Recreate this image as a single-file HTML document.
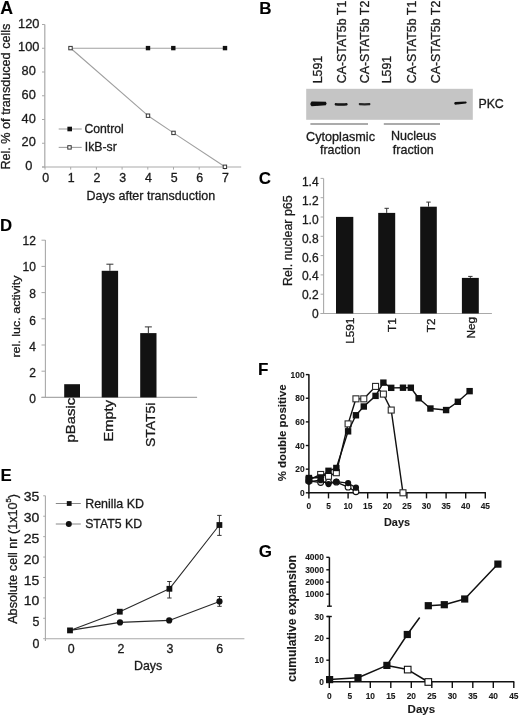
<!DOCTYPE html>
<html><head><meta charset="utf-8"><style>
html,body{margin:0;padding:0;background:#fff;}
body{width:520px;height:716px;overflow:hidden;}
svg{display:block;font-family:"Liberation Sans", sans-serif;filter:blur(0.35px);}
</style></head><body>
<svg width="520" height="716" viewBox="0 0 520 716">
<defs><filter id="bl" x="-20%" y="-100%" width="140%" height="300%"><feGaussianBlur stdDeviation="0.7"/></filter></defs>
<rect width="520" height="716" fill="#fff"/>
<text x="0.2" y="14.0" font-size="17.7" font-weight="bold" fill="#000" stroke="#000" stroke-width="0.1">A</text>
<line x1="44.8" y1="24.5" x2="44.8" y2="167.5" stroke="#a9a9a9" stroke-width="1.2"/>
<line x1="42.0" y1="167.0" x2="241.2" y2="167.0" stroke="#a9a9a9" stroke-width="1.2"/>
<line x1="42.0" y1="167.0" x2="44.8" y2="167.0" stroke="#a9a9a9" stroke-width="1"/>
<text x="28.7" y="170.1" font-size="12.8" text-anchor="middle" fill="#1a1a1a" stroke="#1a1a1a" stroke-width="0.3">0</text>
<line x1="42.0" y1="143.25" x2="44.8" y2="143.25" stroke="#a9a9a9" stroke-width="1"/>
<text x="28.7" y="146.35" font-size="12.8" text-anchor="middle" fill="#1a1a1a" stroke="#1a1a1a" stroke-width="0.3">20</text>
<line x1="42.0" y1="119.5" x2="44.8" y2="119.5" stroke="#a9a9a9" stroke-width="1"/>
<text x="28.7" y="122.6" font-size="12.8" text-anchor="middle" fill="#1a1a1a" stroke="#1a1a1a" stroke-width="0.3">40</text>
<line x1="42.0" y1="95.75" x2="44.8" y2="95.75" stroke="#a9a9a9" stroke-width="1"/>
<text x="28.7" y="98.85" font-size="12.8" text-anchor="middle" fill="#1a1a1a" stroke="#1a1a1a" stroke-width="0.3">60</text>
<line x1="42.0" y1="72.0" x2="44.8" y2="72.0" stroke="#a9a9a9" stroke-width="1"/>
<text x="28.7" y="75.1" font-size="12.8" text-anchor="middle" fill="#1a1a1a" stroke="#1a1a1a" stroke-width="0.3">80</text>
<line x1="42.0" y1="48.25" x2="44.8" y2="48.25" stroke="#a9a9a9" stroke-width="1"/>
<text x="28.7" y="51.35" font-size="12.8" text-anchor="middle" fill="#1a1a1a" stroke="#1a1a1a" stroke-width="0.3">100</text>
<line x1="42.0" y1="24.5" x2="44.8" y2="24.5" stroke="#a9a9a9" stroke-width="1"/>
<text x="28.7" y="27.6" font-size="12.8" text-anchor="middle" fill="#1a1a1a" stroke="#1a1a1a" stroke-width="0.3">120</text>
<line x1="45.0" y1="167" x2="45.0" y2="169.6" stroke="#a9a9a9" stroke-width="1"/>
<text x="45.6" y="182.0" font-size="12.4" text-anchor="middle" fill="#1a1a1a" stroke="#1a1a1a" stroke-width="0.3">0</text>
<line x1="70.7" y1="167" x2="70.7" y2="169.6" stroke="#a9a9a9" stroke-width="1"/>
<text x="71.3" y="182.0" font-size="12.4" text-anchor="middle" fill="#1a1a1a" stroke="#1a1a1a" stroke-width="0.3">1</text>
<line x1="96.4" y1="167" x2="96.4" y2="169.6" stroke="#a9a9a9" stroke-width="1"/>
<text x="97.0" y="182.0" font-size="12.4" text-anchor="middle" fill="#1a1a1a" stroke="#1a1a1a" stroke-width="0.3">2</text>
<line x1="122.1" y1="167" x2="122.1" y2="169.6" stroke="#a9a9a9" stroke-width="1"/>
<text x="122.69999999999999" y="182.0" font-size="12.4" text-anchor="middle" fill="#1a1a1a" stroke="#1a1a1a" stroke-width="0.3">3</text>
<line x1="147.8" y1="167" x2="147.8" y2="169.6" stroke="#a9a9a9" stroke-width="1"/>
<text x="148.4" y="182.0" font-size="12.4" text-anchor="middle" fill="#1a1a1a" stroke="#1a1a1a" stroke-width="0.3">4</text>
<line x1="173.5" y1="167" x2="173.5" y2="169.6" stroke="#a9a9a9" stroke-width="1"/>
<text x="174.1" y="182.0" font-size="12.4" text-anchor="middle" fill="#1a1a1a" stroke="#1a1a1a" stroke-width="0.3">5</text>
<line x1="199.2" y1="167" x2="199.2" y2="169.6" stroke="#a9a9a9" stroke-width="1"/>
<text x="199.79999999999998" y="182.0" font-size="12.4" text-anchor="middle" fill="#1a1a1a" stroke="#1a1a1a" stroke-width="0.3">6</text>
<line x1="224.9" y1="167" x2="224.9" y2="169.6" stroke="#a9a9a9" stroke-width="1"/>
<text x="225.5" y="182.0" font-size="12.4" text-anchor="middle" fill="#1a1a1a" stroke="#1a1a1a" stroke-width="0.3">7</text>
<text x="86.5" y="200.3" font-size="12.5" textLength="128.6" lengthAdjust="spacingAndGlyphs" fill="#1a1a1a" stroke="#1a1a1a" stroke-width="0.3">Days after transduction</text>
<text x="10.1" y="169.6" font-size="12.5" textLength="146.0" lengthAdjust="spacingAndGlyphs" transform="rotate(-90 10.1 169.6)" fill="#1a1a1a" stroke="#1a1a1a" stroke-width="0.3">Rel. % of transduced cells</text>
<polyline points="70.70,48.25 224.90,48.25" fill="none" stroke="#a0a0a0" stroke-width="1.1" stroke-linejoin="round"/>
<polyline points="70.70,48.25 148.00,115.70 173.50,132.90 224.90,166.80" fill="none" stroke="#a0a0a0" stroke-width="1.1" stroke-linejoin="round"/>
<rect x="145.80" y="45.90" width="4.40" height="4.40" fill="#111"/>
<rect x="171.10" y="45.90" width="4.40" height="4.40" fill="#111"/>
<rect x="222.80" y="45.90" width="4.40" height="4.40" fill="#111"/>
<rect x="68.80" y="46.40" width="3.40" height="3.40" fill="#fff" stroke="#333" stroke-width="1"/>
<rect x="146.30" y="114.00" width="3.40" height="3.40" fill="#fff" stroke="#333" stroke-width="1"/>
<rect x="171.80" y="131.20" width="3.40" height="3.40" fill="#fff" stroke="#333" stroke-width="1"/>
<rect x="223.20" y="165.10" width="3.40" height="3.40" fill="#fff" stroke="#333" stroke-width="1"/>
<line x1="58.7" y1="129.0" x2="81.7" y2="129.0" stroke="#a0a0a0" stroke-width="1.1"/>
<rect x="67.40" y="126.70" width="4.60" height="4.60" fill="#111"/>
<text x="84.4" y="133.0" font-size="12.3" textLength="39.4" lengthAdjust="spacingAndGlyphs" fill="#1a1a1a" stroke="#1a1a1a" stroke-width="0.3">Control</text>
<line x1="58.7" y1="147.4" x2="81.7" y2="147.4" stroke="#a0a0a0" stroke-width="1.1"/>
<rect x="67.80" y="145.70" width="3.40" height="3.40" fill="#fff" stroke="#333" stroke-width="1"/>
<text x="84.8" y="151.3" font-size="12.3" textLength="32.0" lengthAdjust="spacingAndGlyphs" fill="#1a1a1a" stroke="#1a1a1a" stroke-width="0.3">IkB-sr</text>
<text x="259.2" y="14.0" font-size="17.0" font-weight="bold" fill="#000" stroke="#000" stroke-width="0.1">B</text>
<text x="322.4" y="83.3" font-size="12.4" transform="rotate(-90 322.4 83.3)" fill="#1a1a1a" stroke="#1a1a1a" stroke-width="0.3">L591</text>
<text x="345.6" y="83.3" font-size="12.4" transform="rotate(-90 345.6 83.3)" fill="#1a1a1a" stroke="#1a1a1a" stroke-width="0.3">CA-STAT5b T1</text>
<text x="368.6" y="83.3" font-size="12.4" transform="rotate(-90 368.6 83.3)" fill="#1a1a1a" stroke="#1a1a1a" stroke-width="0.3">CA-STAT5b T2</text>
<text x="391.2" y="83.3" font-size="12.4" transform="rotate(-90 391.2 83.3)" fill="#1a1a1a" stroke="#1a1a1a" stroke-width="0.3">L591</text>
<text x="416.1" y="83.3" font-size="12.4" transform="rotate(-90 416.1 83.3)" fill="#1a1a1a" stroke="#1a1a1a" stroke-width="0.3">CA-STAT5b T1</text>
<text x="439.6" y="83.3" font-size="12.4" transform="rotate(-90 439.6 83.3)" fill="#1a1a1a" stroke="#1a1a1a" stroke-width="0.3">CA-STAT5b T2</text>
<rect x="306.20" y="88.80" width="166.60" height="31.00" fill="#c5c5c5"/>
<g filter="url(#bl)">
<path d="M311.6,101.4 L325.8,101.8 Q327.4,103.6 325.8,105.3 L311.6,106.3 Q309.2,103.9 311.6,101.4 Z" fill="#080808"/>
<path d="M335.2,103.1 Q341,103.6 347.0,103.1 Q348.6,104.4 347.0,105.6 Q341,106.0 335.2,105.6 Q333.8,104.4 335.2,103.1 Z" fill="#161616"/>
<path d="M359.3,103.1 Q364.6,103.4 369.9,103.1 Q371.2,104.2 369.9,105.3 Q364.6,105.6 359.3,105.3 Q358.0,104.2 359.3,103.1 Z" fill="#262626"/>
<path d="M455.0,102.0 L466.0,101.5 Q467.6,102.4 466.0,103.6 L455.0,104.7 Q453.2,103.4 455.0,102.0 Z" fill="#101010"/>
</g>
<rect x="310.40" y="123.00" width="57.60" height="2.00" fill="#ababab"/>
<rect x="383.80" y="123.00" width="56.20" height="2.00" fill="#ababab"/>
<text x="306.0" y="140.5" font-size="12.4" textLength="69.0" lengthAdjust="spacingAndGlyphs" fill="#1a1a1a" stroke="#1a1a1a" stroke-width="0.3">Cytoplasmic</text>
<text x="320.0" y="154.3" font-size="12.4" textLength="40.6" lengthAdjust="spacingAndGlyphs" fill="#1a1a1a" stroke="#1a1a1a" stroke-width="0.3">fraction</text>
<text x="390.9" y="139.6" font-size="12.4" textLength="45.3" lengthAdjust="spacingAndGlyphs" fill="#1a1a1a" stroke="#1a1a1a" stroke-width="0.3">Nucleus</text>
<text x="392.8" y="153.5" font-size="12.4" textLength="41.0" lengthAdjust="spacingAndGlyphs" fill="#1a1a1a" stroke="#1a1a1a" stroke-width="0.3">fraction</text>
<text x="478.4" y="108.2" font-size="12.2" textLength="25.4" lengthAdjust="spacingAndGlyphs" fill="#1a1a1a" stroke="#1a1a1a" stroke-width="0.3">PKC</text>
<text x="258.8" y="183.8" font-size="17.0" font-weight="bold" fill="#000" stroke="#000" stroke-width="0.1">C</text>
<line x1="323.6" y1="178.4" x2="323.6" y2="313.5" stroke="#a9a9a9" stroke-width="1.1"/>
<line x1="320.6" y1="313.5" x2="491.9" y2="313.5" stroke="#a9a9a9" stroke-width="1.1"/>
<line x1="320.6" y1="178.4" x2="323.6" y2="178.4" stroke="#a9a9a9" stroke-width="1"/>
<text x="318.6" y="185.7" font-size="12.0" text-anchor="end" fill="#1a1a1a" stroke="#1a1a1a" stroke-width="0.3">1.4</text>
<line x1="320.6" y1="197.7" x2="323.6" y2="197.7" stroke="#a9a9a9" stroke-width="1"/>
<text x="318.6" y="205.2" font-size="12.0" text-anchor="end" fill="#1a1a1a" stroke="#1a1a1a" stroke-width="0.3">1.2</text>
<line x1="320.6" y1="217.0" x2="323.6" y2="217.0" stroke="#a9a9a9" stroke-width="1"/>
<text x="318.6" y="224.0" font-size="12.0" text-anchor="end" fill="#1a1a1a" stroke="#1a1a1a" stroke-width="0.3">1.0</text>
<line x1="320.6" y1="236.3" x2="323.6" y2="236.3" stroke="#a9a9a9" stroke-width="1"/>
<text x="318.6" y="242.89999999999998" font-size="12.0" text-anchor="end" fill="#1a1a1a" stroke="#1a1a1a" stroke-width="0.3">0.8</text>
<line x1="320.6" y1="255.60000000000002" x2="323.6" y2="255.60000000000002" stroke="#a9a9a9" stroke-width="1"/>
<text x="318.6" y="261.7" font-size="12.0" text-anchor="end" fill="#1a1a1a" stroke="#1a1a1a" stroke-width="0.3">0.6</text>
<line x1="320.6" y1="274.9" x2="323.6" y2="274.9" stroke="#a9a9a9" stroke-width="1"/>
<text x="318.6" y="280.0" font-size="12.0" text-anchor="end" fill="#1a1a1a" stroke="#1a1a1a" stroke-width="0.3">0.4</text>
<line x1="320.6" y1="294.20000000000005" x2="323.6" y2="294.20000000000005" stroke="#a9a9a9" stroke-width="1"/>
<text x="318.6" y="299.4" font-size="12.0" text-anchor="end" fill="#1a1a1a" stroke="#1a1a1a" stroke-width="0.3">0.2</text>
<line x1="320.6" y1="313.5" x2="323.6" y2="313.5" stroke="#a9a9a9" stroke-width="1"/>
<text x="318.6" y="318.3" font-size="12.0" text-anchor="end" fill="#1a1a1a" stroke="#1a1a1a" stroke-width="0.3">0</text>
<text x="291.9" y="285.9" font-size="12.4" textLength="90.6" lengthAdjust="spacingAndGlyphs" transform="rotate(-90 291.9 285.9)" fill="#1a1a1a" stroke="#1a1a1a" stroke-width="0.3">Rel. nuclear p65</text>
<rect x="336.00" y="216.90" width="17.30" height="96.60" fill="#121212"/>
<rect x="378.20" y="212.90" width="17.00" height="100.60" fill="#121212"/>
<line x1="386.7" y1="208.3" x2="386.7" y2="212.9" stroke="#333" stroke-width="1"/>
<line x1="384.5" y1="208.3" x2="388.9" y2="208.3" stroke="#333" stroke-width="1"/>
<rect x="420.20" y="206.70" width="16.60" height="106.80" fill="#121212"/>
<line x1="428.5" y1="202.1" x2="428.5" y2="206.7" stroke="#333" stroke-width="1"/>
<line x1="426.3" y1="202.1" x2="430.7" y2="202.1" stroke="#333" stroke-width="1"/>
<rect x="461.90" y="277.90" width="16.90" height="35.60" fill="#121212"/>
<line x1="470.35" y1="276.4" x2="470.35" y2="277.9" stroke="#333" stroke-width="1"/>
<line x1="468.15000000000003" y1="276.4" x2="472.55" y2="276.4" stroke="#333" stroke-width="1"/>
<text x="354.0" y="317.6" font-size="11.8" text-anchor="end" transform="rotate(-90 354.0 317.6)" fill="#1a1a1a" stroke="#1a1a1a" stroke-width="0.3">L591</text>
<text x="395.7" y="318.2" font-size="11.8" text-anchor="end" transform="rotate(-90 395.7 318.2)" fill="#1a1a1a" stroke="#1a1a1a" stroke-width="0.3">T1</text>
<text x="435.4" y="318.4" font-size="11.8" text-anchor="end" transform="rotate(-90 435.4 318.4)" fill="#1a1a1a" stroke="#1a1a1a" stroke-width="0.3">T2</text>
<text x="475.4" y="316.8" font-size="11.8" text-anchor="end" transform="rotate(-90 475.4 316.8)" fill="#1a1a1a" stroke="#1a1a1a" stroke-width="0.3">Neg</text>
<text x="0.0" y="231.2" font-size="16.8" font-weight="bold" fill="#000" stroke="#000" stroke-width="0.1">D</text>
<line x1="45.4" y1="240.1" x2="45.4" y2="397.4" stroke="#a9a9a9" stroke-width="1.1"/>
<line x1="41.5" y1="397.4" x2="197.1" y2="397.4" stroke="#a9a9a9" stroke-width="1.1"/>
<line x1="41.5" y1="240.2" x2="45.4" y2="240.2" stroke="#a9a9a9" stroke-width="1"/>
<text x="35.9" y="245.4" font-size="12.0" text-anchor="end" fill="#1a1a1a" stroke="#1a1a1a" stroke-width="0.3">12</text>
<line x1="41.5" y1="266.4" x2="45.4" y2="266.4" stroke="#a9a9a9" stroke-width="1"/>
<text x="35.9" y="271.3" font-size="12.0" text-anchor="end" fill="#1a1a1a" stroke="#1a1a1a" stroke-width="0.3">10</text>
<line x1="41.5" y1="292.59999999999997" x2="45.4" y2="292.59999999999997" stroke="#a9a9a9" stroke-width="1"/>
<text x="35.9" y="298.0" font-size="12.0" text-anchor="end" fill="#1a1a1a" stroke="#1a1a1a" stroke-width="0.3">8</text>
<line x1="41.5" y1="318.79999999999995" x2="45.4" y2="318.79999999999995" stroke="#a9a9a9" stroke-width="1"/>
<text x="35.9" y="324.6" font-size="12.0" text-anchor="end" fill="#1a1a1a" stroke="#1a1a1a" stroke-width="0.3">6</text>
<line x1="41.5" y1="345.0" x2="45.4" y2="345.0" stroke="#a9a9a9" stroke-width="1"/>
<text x="35.9" y="350.8" font-size="12.0" text-anchor="end" fill="#1a1a1a" stroke="#1a1a1a" stroke-width="0.3">4</text>
<line x1="41.5" y1="371.2" x2="45.4" y2="371.2" stroke="#a9a9a9" stroke-width="1"/>
<text x="35.9" y="376.6" font-size="12.0" text-anchor="end" fill="#1a1a1a" stroke="#1a1a1a" stroke-width="0.3">2</text>
<line x1="41.5" y1="397.4" x2="45.4" y2="397.4" stroke="#a9a9a9" stroke-width="1"/>
<text x="35.9" y="402.5" font-size="12.0" text-anchor="end" fill="#1a1a1a" stroke="#1a1a1a" stroke-width="0.3">0</text>
<text x="20.0" y="357.6" font-size="11.6" textLength="82.0" lengthAdjust="spacingAndGlyphs" transform="rotate(-90 20.0 357.6)" fill="#1a1a1a" stroke="#1a1a1a" stroke-width="0.3">rel. luc. activity</text>
<rect x="64.20" y="384.20" width="15.80" height="13.20" fill="#121212"/>
<rect x="101.70" y="270.80" width="16.40" height="126.60" fill="#121212"/>
<line x1="109.9" y1="264.2" x2="109.9" y2="270.8" stroke="#333" stroke-width="1"/>
<line x1="106.4" y1="264.2" x2="113.4" y2="264.2" stroke="#333" stroke-width="1"/>
<rect x="140.20" y="333.10" width="16.30" height="64.30" fill="#121212"/>
<line x1="148.35" y1="326.9" x2="148.35" y2="333.1" stroke="#333" stroke-width="1"/>
<line x1="144.85" y1="326.9" x2="151.85" y2="326.9" stroke="#333" stroke-width="1"/>
<text x="75.3" y="397.8" font-size="12.6" text-anchor="end" textLength="44.6" lengthAdjust="spacingAndGlyphs" transform="rotate(-90 75.3 397.8)" fill="#1a1a1a" stroke="#1a1a1a" stroke-width="0.3">pBasic</text>
<text x="113.4" y="400.0" font-size="12.6" text-anchor="end" textLength="41.6" lengthAdjust="spacingAndGlyphs" transform="rotate(-90 113.4 400.0)" fill="#1a1a1a" stroke="#1a1a1a" stroke-width="0.3">Empty</text>
<text x="155.0" y="402.6" font-size="12.6" text-anchor="end" textLength="44.4" lengthAdjust="spacingAndGlyphs" transform="rotate(-90 155.0 402.6)" fill="#1a1a1a" stroke="#1a1a1a" stroke-width="0.3">STAT5i</text>
<text x="0.6" y="480.8" font-size="16.8" font-weight="bold" fill="#000" stroke="#000" stroke-width="0.1">E</text>
<line x1="45.4" y1="495.8" x2="45.4" y2="641.0" stroke="#a9a9a9" stroke-width="1.1"/>
<line x1="45.4" y1="638.7" x2="244.4" y2="638.7" stroke="#a9a9a9" stroke-width="1.1"/>
<line x1="43.2" y1="495.7950000000001" x2="45.4" y2="495.7950000000001" stroke="#a9a9a9" stroke-width="1"/>
<text x="39.4" y="501.2" font-size="12.4" text-anchor="end" textLength="15.6" lengthAdjust="spacingAndGlyphs" fill="#1a1a1a" stroke="#1a1a1a" stroke-width="0.3">35</text>
<line x1="43.2" y1="516.21" x2="45.4" y2="516.21" stroke="#a9a9a9" stroke-width="1"/>
<text x="39.4" y="521.9" font-size="12.4" text-anchor="end" textLength="15.6" lengthAdjust="spacingAndGlyphs" fill="#1a1a1a" stroke="#1a1a1a" stroke-width="0.3">30</text>
<line x1="43.2" y1="536.625" x2="45.4" y2="536.625" stroke="#a9a9a9" stroke-width="1"/>
<text x="39.4" y="542.9" font-size="12.4" text-anchor="end" textLength="15.6" lengthAdjust="spacingAndGlyphs" fill="#1a1a1a" stroke="#1a1a1a" stroke-width="0.3">25</text>
<line x1="43.2" y1="557.0400000000001" x2="45.4" y2="557.0400000000001" stroke="#a9a9a9" stroke-width="1"/>
<text x="39.4" y="563.6999999999999" font-size="12.4" text-anchor="end" textLength="15.6" lengthAdjust="spacingAndGlyphs" fill="#1a1a1a" stroke="#1a1a1a" stroke-width="0.3">20</text>
<line x1="43.2" y1="577.455" x2="45.4" y2="577.455" stroke="#a9a9a9" stroke-width="1"/>
<text x="39.4" y="584.5" font-size="12.4" text-anchor="end" textLength="15.6" lengthAdjust="spacingAndGlyphs" fill="#1a1a1a" stroke="#1a1a1a" stroke-width="0.3">15</text>
<line x1="43.2" y1="597.87" x2="45.4" y2="597.87" stroke="#a9a9a9" stroke-width="1"/>
<text x="39.4" y="605.1" font-size="12.4" text-anchor="end" textLength="15.6" lengthAdjust="spacingAndGlyphs" fill="#1a1a1a" stroke="#1a1a1a" stroke-width="0.3">10</text>
<line x1="43.2" y1="618.2850000000001" x2="45.4" y2="618.2850000000001" stroke="#a9a9a9" stroke-width="1"/>
<text x="39.4" y="626.3" font-size="12.4" text-anchor="end" fill="#1a1a1a" stroke="#1a1a1a" stroke-width="0.3">5</text>
<line x1="43.2" y1="638.7" x2="45.4" y2="638.7" stroke="#a9a9a9" stroke-width="1"/>
<text x="39.4" y="647.9" font-size="12.4" text-anchor="end" fill="#1a1a1a" stroke="#1a1a1a" stroke-width="0.3">0</text>
<text x="71.25" y="652.6" font-size="12.4" text-anchor="middle" fill="#1a1a1a" stroke="#1a1a1a" stroke-width="0.3">0</text>
<text x="121.0" y="652.6" font-size="12.4" text-anchor="middle" fill="#1a1a1a" stroke="#1a1a1a" stroke-width="0.3">2</text>
<text x="170.0" y="652.6" font-size="12.4" text-anchor="middle" fill="#1a1a1a" stroke="#1a1a1a" stroke-width="0.3">3</text>
<text x="219.8" y="652.6" font-size="12.4" text-anchor="middle" fill="#1a1a1a" stroke="#1a1a1a" stroke-width="0.3">6</text>
<text x="134.0" y="670.2" font-size="12.4" textLength="28.2" lengthAdjust="spacingAndGlyphs" fill="#1a1a1a" stroke="#1a1a1a" stroke-width="0.3">Days</text>
<text x="17.1" y="623.8" font-size="12.5" fill="#1a1a1a" stroke="#1a1a1a" stroke-width="0.3" transform="rotate(-90 17.1 623.8)" textLength="129.8" lengthAdjust="spacingAndGlyphs">Absolute cell nr (1x10<tspan dy="-6.2" font-size="7.5">5</tspan><tspan dy="6.2">)</tspan></text>
<polyline points="70.00,630.40 119.80,611.70 169.40,588.80 219.40,525.00" fill="none" stroke="#2a2a2a" stroke-width="1.1" stroke-linejoin="round"/>
<polyline points="70.00,630.40 120.00,622.40 169.20,620.40 219.50,601.40" fill="none" stroke="#2a2a2a" stroke-width="1.1" stroke-linejoin="round"/>
<line x1="169.4" y1="581.5" x2="169.4" y2="598.0" stroke="#333" stroke-width="1"/>
<line x1="167.20000000000002" y1="581.5" x2="171.6" y2="581.5" stroke="#333" stroke-width="1"/>
<line x1="167.20000000000002" y1="598.0" x2="171.6" y2="598.0" stroke="#333" stroke-width="1"/>
<line x1="219.4" y1="515.4" x2="219.4" y2="535.4" stroke="#333" stroke-width="1"/>
<line x1="217.20000000000002" y1="515.4" x2="221.6" y2="515.4" stroke="#333" stroke-width="1"/>
<line x1="217.20000000000002" y1="535.4" x2="221.6" y2="535.4" stroke="#333" stroke-width="1"/>
<line x1="219.5" y1="596.5" x2="219.5" y2="606.3" stroke="#333" stroke-width="1"/>
<line x1="217.3" y1="596.5" x2="221.7" y2="596.5" stroke="#333" stroke-width="1"/>
<line x1="217.3" y1="606.3" x2="221.7" y2="606.3" stroke="#333" stroke-width="1"/>
<rect x="67.10" y="627.50" width="5.80" height="5.80" fill="#111"/>
<rect x="116.90" y="608.80" width="5.80" height="5.80" fill="#111"/>
<rect x="166.50" y="585.90" width="5.80" height="5.80" fill="#111"/>
<rect x="216.50" y="522.10" width="5.80" height="5.80" fill="#111"/>
<circle cx="120.00" cy="622.40" r="3.1" fill="#111"/>
<circle cx="169.20" cy="620.40" r="3.1" fill="#111"/>
<circle cx="219.50" cy="601.40" r="3.1" fill="#111"/>
<line x1="55.8" y1="503.5" x2="80.8" y2="503.5" stroke="#888" stroke-width="1"/>
<rect x="66.80" y="501.10" width="4.80" height="4.80" fill="#111"/>
<text x="85.2" y="507.8" font-size="12.4" textLength="58.8" lengthAdjust="spacingAndGlyphs" fill="#1a1a1a" stroke="#1a1a1a" stroke-width="0.3">Renilla KD</text>
<line x1="55.8" y1="524.0" x2="80.8" y2="524.0" stroke="#888" stroke-width="1"/>
<circle cx="68.80" cy="524.00" r="3.0" fill="#111"/>
<text x="85.2" y="528.2" font-size="12.4" textLength="56.8" lengthAdjust="spacingAndGlyphs" fill="#1a1a1a" stroke="#1a1a1a" stroke-width="0.3">STAT5 KD</text>
<text x="258.0" y="374.8" font-size="17.0" font-weight="bold" fill="#000" stroke="#000" stroke-width="0.1">F</text>
<line x1="308.9" y1="374.2" x2="308.9" y2="493.5" stroke="#111" stroke-width="1.5"/>
<line x1="308.2" y1="492.8" x2="485.9" y2="492.8" stroke="#111" stroke-width="1.5"/>
<line x1="305.8" y1="492.8" x2="308.9" y2="492.8" stroke="#111" stroke-width="1.4"/>
<text x="304.6" y="495.8" font-size="8.4" text-anchor="end" font-weight="bold" fill="#1a1a1a" stroke="#1a1a1a" stroke-width="0.1">0</text>
<line x1="305.8" y1="469.16" x2="308.9" y2="469.16" stroke="#111" stroke-width="1.4"/>
<text x="304.6" y="472.16" font-size="8.4" text-anchor="end" font-weight="bold" fill="#1a1a1a" stroke="#1a1a1a" stroke-width="0.1">20</text>
<line x1="305.8" y1="445.52" x2="308.9" y2="445.52" stroke="#111" stroke-width="1.4"/>
<text x="304.6" y="448.52" font-size="8.4" text-anchor="end" font-weight="bold" fill="#1a1a1a" stroke="#1a1a1a" stroke-width="0.1">40</text>
<line x1="305.8" y1="421.88" x2="308.9" y2="421.88" stroke="#111" stroke-width="1.4"/>
<text x="304.6" y="424.88" font-size="8.4" text-anchor="end" font-weight="bold" fill="#1a1a1a" stroke="#1a1a1a" stroke-width="0.1">60</text>
<line x1="305.8" y1="398.24" x2="308.9" y2="398.24" stroke="#111" stroke-width="1.4"/>
<text x="304.6" y="401.24" font-size="8.4" text-anchor="end" font-weight="bold" fill="#1a1a1a" stroke="#1a1a1a" stroke-width="0.1">80</text>
<line x1="305.8" y1="374.6" x2="308.9" y2="374.6" stroke="#111" stroke-width="1.4"/>
<text x="304.6" y="377.6" font-size="8.4" text-anchor="end" font-weight="bold" fill="#1a1a1a" stroke="#1a1a1a" stroke-width="0.1">100</text>
<line x1="308.9" y1="492.8" x2="308.9" y2="498.4" stroke="#111" stroke-width="1.4"/>
<text x="308.9" y="509.0" font-size="8.4" text-anchor="middle" font-weight="bold" fill="#1a1a1a" stroke="#1a1a1a" stroke-width="0.1">0</text>
<line x1="328.5" y1="492.8" x2="328.5" y2="498.4" stroke="#111" stroke-width="1.4"/>
<text x="328.5" y="509.0" font-size="8.4" text-anchor="middle" font-weight="bold" fill="#1a1a1a" stroke="#1a1a1a" stroke-width="0.1">5</text>
<line x1="348.09999999999997" y1="492.8" x2="348.09999999999997" y2="498.4" stroke="#111" stroke-width="1.4"/>
<text x="348.09999999999997" y="509.0" font-size="8.4" text-anchor="middle" font-weight="bold" fill="#1a1a1a" stroke="#1a1a1a" stroke-width="0.1">10</text>
<line x1="367.7" y1="492.8" x2="367.7" y2="498.4" stroke="#111" stroke-width="1.4"/>
<text x="367.7" y="509.0" font-size="8.4" text-anchor="middle" font-weight="bold" fill="#1a1a1a" stroke="#1a1a1a" stroke-width="0.1">15</text>
<line x1="387.29999999999995" y1="492.8" x2="387.29999999999995" y2="498.4" stroke="#111" stroke-width="1.4"/>
<text x="387.29999999999995" y="509.0" font-size="8.4" text-anchor="middle" font-weight="bold" fill="#1a1a1a" stroke="#1a1a1a" stroke-width="0.1">20</text>
<line x1="406.9" y1="492.8" x2="406.9" y2="498.4" stroke="#111" stroke-width="1.4"/>
<text x="406.9" y="509.0" font-size="8.4" text-anchor="middle" font-weight="bold" fill="#1a1a1a" stroke="#1a1a1a" stroke-width="0.1">25</text>
<line x1="426.5" y1="492.8" x2="426.5" y2="498.4" stroke="#111" stroke-width="1.4"/>
<text x="426.5" y="509.0" font-size="8.4" text-anchor="middle" font-weight="bold" fill="#1a1a1a" stroke="#1a1a1a" stroke-width="0.1">30</text>
<line x1="446.09999999999997" y1="492.8" x2="446.09999999999997" y2="498.4" stroke="#111" stroke-width="1.4"/>
<text x="446.09999999999997" y="509.0" font-size="8.4" text-anchor="middle" font-weight="bold" fill="#1a1a1a" stroke="#1a1a1a" stroke-width="0.1">35</text>
<line x1="465.7" y1="492.8" x2="465.7" y2="498.4" stroke="#111" stroke-width="1.4"/>
<text x="465.7" y="509.0" font-size="8.4" text-anchor="middle" font-weight="bold" fill="#1a1a1a" stroke="#1a1a1a" stroke-width="0.1">40</text>
<line x1="485.29999999999995" y1="492.8" x2="485.29999999999995" y2="498.4" stroke="#111" stroke-width="1.4"/>
<text x="485.29999999999995" y="509.0" font-size="8.4" text-anchor="middle" font-weight="bold" fill="#1a1a1a" stroke="#1a1a1a" stroke-width="0.1">45</text>
<text x="384.0" y="526.3" font-size="10.8" font-weight="bold" textLength="26.0" lengthAdjust="spacingAndGlyphs" fill="#1a1a1a" stroke="#1a1a1a" stroke-width="0.1">Days</text>
<text x="286.5" y="481.3" font-size="11.0" font-weight="bold" textLength="97.0" lengthAdjust="spacingAndGlyphs" transform="rotate(-90 286.5 481.3)" fill="#1a1a1a" stroke="#1a1a1a" stroke-width="0.1">% double positive</text>
<polyline points="308.90,480.98 320.66,482.52 328.50,482.16 336.34,482.16 348.10,487.13 355.94,491.74" fill="none" stroke="#111" stroke-width="1.3" stroke-linejoin="round"/>
<circle cx="308.90" cy="480.98" r="2.9" fill="#fff" stroke="#111" stroke-width="1.1"/>
<circle cx="320.66" cy="482.52" r="2.9" fill="#fff" stroke="#111" stroke-width="1.1"/>
<circle cx="328.50" cy="482.16" r="2.9" fill="#fff" stroke="#111" stroke-width="1.1"/>
<circle cx="336.34" cy="482.16" r="2.9" fill="#fff" stroke="#111" stroke-width="1.1"/>
<circle cx="348.10" cy="487.13" r="2.9" fill="#fff" stroke="#111" stroke-width="1.1"/>
<circle cx="355.94" cy="491.74" r="2.9" fill="#fff" stroke="#111" stroke-width="1.1"/>
<polyline points="308.90,479.80 320.66,474.48 328.50,476.25 336.34,472.71 348.10,423.89 355.94,398.83 363.78,398.83 375.54,386.42 383.38,394.10 391.22,410.06 402.98,492.80" fill="none" stroke="#111" stroke-width="1.4" stroke-linejoin="round"/>
<rect x="305.90" y="476.80" width="6.00" height="6.00" fill="#fff" stroke="#2a2a2a" stroke-width="1.1"/>
<rect x="317.66" y="471.48" width="6.00" height="6.00" fill="#fff" stroke="#2a2a2a" stroke-width="1.1"/>
<rect x="325.50" y="473.25" width="6.00" height="6.00" fill="#fff" stroke="#2a2a2a" stroke-width="1.1"/>
<rect x="333.34" y="469.71" width="6.00" height="6.00" fill="#fff" stroke="#2a2a2a" stroke-width="1.1"/>
<rect x="345.10" y="420.89" width="6.00" height="6.00" fill="#fff" stroke="#2a2a2a" stroke-width="1.1"/>
<rect x="352.94" y="395.83" width="6.00" height="6.00" fill="#fff" stroke="#2a2a2a" stroke-width="1.1"/>
<rect x="360.78" y="395.83" width="6.00" height="6.00" fill="#fff" stroke="#2a2a2a" stroke-width="1.1"/>
<rect x="372.54" y="383.42" width="6.00" height="6.00" fill="#fff" stroke="#2a2a2a" stroke-width="1.1"/>
<rect x="380.38" y="391.10" width="6.00" height="6.00" fill="#fff" stroke="#2a2a2a" stroke-width="1.1"/>
<rect x="388.22" y="407.06" width="6.00" height="6.00" fill="#fff" stroke="#2a2a2a" stroke-width="1.1"/>
<rect x="399.98" y="489.80" width="6.00" height="6.00" fill="#fff" stroke="#2a2a2a" stroke-width="1.1"/>
<polyline points="308.90,481.57 320.66,480.27 328.50,484.05 336.34,481.69 348.10,483.11 355.94,487.72" fill="none" stroke="#111" stroke-width="1.3" stroke-linejoin="round"/>
<circle cx="308.90" cy="481.57" r="3.1" fill="#111"/>
<circle cx="320.66" cy="480.27" r="3.1" fill="#111"/>
<circle cx="328.50" cy="484.05" r="3.1" fill="#111"/>
<circle cx="336.34" cy="481.69" r="3.1" fill="#111"/>
<circle cx="348.10" cy="483.11" r="3.1" fill="#111"/>
<circle cx="355.94" cy="487.72" r="3.1" fill="#111"/>
<polyline points="308.90,478.03 320.66,477.43 328.50,470.81 336.34,467.98 348.10,431.34 355.94,415.26 363.78,406.51 375.54,395.88 383.38,382.64 391.22,387.84 402.98,387.72 410.82,387.72 418.66,398.24 430.42,408.52 446.10,410.06 457.86,401.79 469.62,391.15" fill="none" stroke="#111" stroke-width="1.4" stroke-linejoin="round"/>
<rect x="305.70" y="474.83" width="6.40" height="6.40" fill="#111"/>
<rect x="317.46" y="474.23" width="6.40" height="6.40" fill="#111"/>
<rect x="325.30" y="467.61" width="6.40" height="6.40" fill="#111"/>
<rect x="333.14" y="464.78" width="6.40" height="6.40" fill="#111"/>
<rect x="344.90" y="428.14" width="6.40" height="6.40" fill="#111"/>
<rect x="352.74" y="412.06" width="6.40" height="6.40" fill="#111"/>
<rect x="360.58" y="403.31" width="6.40" height="6.40" fill="#111"/>
<rect x="372.34" y="392.68" width="6.40" height="6.40" fill="#111"/>
<rect x="380.18" y="379.44" width="6.40" height="6.40" fill="#111"/>
<rect x="388.02" y="384.64" width="6.40" height="6.40" fill="#111"/>
<rect x="399.78" y="384.52" width="6.40" height="6.40" fill="#111"/>
<rect x="407.62" y="384.52" width="6.40" height="6.40" fill="#111"/>
<rect x="415.46" y="395.04" width="6.40" height="6.40" fill="#111"/>
<rect x="427.22" y="405.32" width="6.40" height="6.40" fill="#111"/>
<rect x="442.90" y="406.86" width="6.40" height="6.40" fill="#111"/>
<rect x="454.66" y="398.59" width="6.40" height="6.40" fill="#111"/>
<rect x="466.42" y="387.95" width="6.40" height="6.40" fill="#111"/>
<text x="258.8" y="557.2" font-size="17.0" font-weight="bold" fill="#000" stroke="#000" stroke-width="0.1">G</text>
<line x1="329.4" y1="557.3" x2="329.4" y2="606.2" stroke="#111" stroke-width="1.5"/>
<line x1="327.0" y1="606.2" x2="331.8" y2="606.2" stroke="#111" stroke-width="1.4"/>
<line x1="326.3" y1="557.3" x2="329.4" y2="557.3" stroke="#111" stroke-width="1.4"/>
<text x="323.8" y="560.3" font-size="8.4" text-anchor="end" font-weight="bold" fill="#1a1a1a" stroke="#1a1a1a" stroke-width="0.1">4000</text>
<line x1="326.3" y1="569.8" x2="329.4" y2="569.8" stroke="#111" stroke-width="1.4"/>
<text x="323.8" y="572.8" font-size="8.4" text-anchor="end" font-weight="bold" fill="#1a1a1a" stroke="#1a1a1a" stroke-width="0.1">3000</text>
<line x1="326.3" y1="582.1" x2="329.4" y2="582.1" stroke="#111" stroke-width="1.4"/>
<text x="323.8" y="585.1" font-size="8.4" text-anchor="end" font-weight="bold" fill="#1a1a1a" stroke="#1a1a1a" stroke-width="0.1">2000</text>
<line x1="326.3" y1="594.2" x2="329.4" y2="594.2" stroke="#111" stroke-width="1.4"/>
<text x="323.8" y="597.2" font-size="8.4" text-anchor="end" font-weight="bold" fill="#1a1a1a" stroke="#1a1a1a" stroke-width="0.1">1000</text>
<line x1="329.4" y1="616.5" x2="329.4" y2="682.5" stroke="#111" stroke-width="1.5"/>
<line x1="327.0" y1="616.5" x2="331.8" y2="616.5" stroke="#111" stroke-width="1.4"/>
<line x1="326.3" y1="616.5" x2="329.4" y2="616.5" stroke="#111" stroke-width="1.4"/>
<text x="323.8" y="619.5" font-size="8.4" text-anchor="end" font-weight="bold" fill="#1a1a1a" stroke="#1a1a1a" stroke-width="0.1">30</text>
<line x1="326.3" y1="638.4" x2="329.4" y2="638.4" stroke="#111" stroke-width="1.4"/>
<text x="323.8" y="641.4" font-size="8.4" text-anchor="end" font-weight="bold" fill="#1a1a1a" stroke="#1a1a1a" stroke-width="0.1">20</text>
<line x1="326.3" y1="660.2" x2="329.4" y2="660.2" stroke="#111" stroke-width="1.4"/>
<text x="323.8" y="663.2" font-size="8.4" text-anchor="end" font-weight="bold" fill="#1a1a1a" stroke="#1a1a1a" stroke-width="0.1">10</text>
<line x1="326.3" y1="682.0" x2="329.4" y2="682.0" stroke="#111" stroke-width="1.4"/>
<text x="323.8" y="685.0" font-size="8.4" text-anchor="end" font-weight="bold" fill="#1a1a1a" stroke="#1a1a1a" stroke-width="0.1">0</text>
<line x1="328.7" y1="681.8" x2="514.3" y2="681.8" stroke="#111" stroke-width="1.5"/>
<line x1="329.3" y1="681.8" x2="329.3" y2="688.0" stroke="#111" stroke-width="1.4"/>
<text x="329.3" y="698.6" font-size="8.4" text-anchor="middle" font-weight="bold" fill="#1a1a1a" stroke="#1a1a1a" stroke-width="0.1">0</text>
<line x1="349.8" y1="681.8" x2="349.8" y2="688.0" stroke="#111" stroke-width="1.4"/>
<text x="349.8" y="698.6" font-size="8.4" text-anchor="middle" font-weight="bold" fill="#1a1a1a" stroke="#1a1a1a" stroke-width="0.1">5</text>
<line x1="370.3" y1="681.8" x2="370.3" y2="688.0" stroke="#111" stroke-width="1.4"/>
<text x="370.3" y="698.6" font-size="8.4" text-anchor="middle" font-weight="bold" fill="#1a1a1a" stroke="#1a1a1a" stroke-width="0.1">10</text>
<line x1="390.8" y1="681.8" x2="390.8" y2="688.0" stroke="#111" stroke-width="1.4"/>
<text x="390.8" y="698.6" font-size="8.4" text-anchor="middle" font-weight="bold" fill="#1a1a1a" stroke="#1a1a1a" stroke-width="0.1">15</text>
<line x1="411.3" y1="681.8" x2="411.3" y2="688.0" stroke="#111" stroke-width="1.4"/>
<text x="411.3" y="698.6" font-size="8.4" text-anchor="middle" font-weight="bold" fill="#1a1a1a" stroke="#1a1a1a" stroke-width="0.1">20</text>
<line x1="431.8" y1="681.8" x2="431.8" y2="688.0" stroke="#111" stroke-width="1.4"/>
<text x="431.8" y="698.6" font-size="8.4" text-anchor="middle" font-weight="bold" fill="#1a1a1a" stroke="#1a1a1a" stroke-width="0.1">25</text>
<line x1="452.3" y1="681.8" x2="452.3" y2="688.0" stroke="#111" stroke-width="1.4"/>
<text x="452.3" y="698.6" font-size="8.4" text-anchor="middle" font-weight="bold" fill="#1a1a1a" stroke="#1a1a1a" stroke-width="0.1">30</text>
<line x1="472.8" y1="681.8" x2="472.8" y2="688.0" stroke="#111" stroke-width="1.4"/>
<text x="472.8" y="698.6" font-size="8.4" text-anchor="middle" font-weight="bold" fill="#1a1a1a" stroke="#1a1a1a" stroke-width="0.1">35</text>
<line x1="493.3" y1="681.8" x2="493.3" y2="688.0" stroke="#111" stroke-width="1.4"/>
<text x="493.3" y="698.6" font-size="8.4" text-anchor="middle" font-weight="bold" fill="#1a1a1a" stroke="#1a1a1a" stroke-width="0.1">40</text>
<line x1="513.8" y1="681.8" x2="513.8" y2="688.0" stroke="#111" stroke-width="1.4"/>
<text x="513.8" y="698.6" font-size="8.4" text-anchor="middle" font-weight="bold" fill="#1a1a1a" stroke="#1a1a1a" stroke-width="0.1">45</text>
<text x="407.6" y="712.6" font-size="11.4" font-weight="bold" textLength="27.6" lengthAdjust="spacingAndGlyphs" fill="#1a1a1a" stroke="#1a1a1a" stroke-width="0.1">Days</text>
<text x="295.6" y="682.0" font-size="12.0" font-weight="bold" textLength="127.0" lengthAdjust="spacingAndGlyphs" transform="rotate(-90 295.6 682.0)" fill="#1a1a1a" stroke="#1a1a1a" stroke-width="0.1">cumulative expansion</text>
<polyline points="386.90,665.40 407.70,669.60 428.30,682.00" fill="none" stroke="#111" stroke-width="1.5" stroke-linejoin="round"/>
<rect x="404.40" y="666.30" width="6.60" height="6.60" fill="#fff" stroke="#111" stroke-width="1.1"/>
<rect x="425.00" y="678.70" width="6.60" height="6.60" fill="#fff" stroke="#111" stroke-width="1.1"/>
<polyline points="329.60,679.60 358.00,677.70 386.90,665.40 407.30,634.50 419.70,617.50" fill="none" stroke="#111" stroke-width="1.5" stroke-linejoin="round"/>
<polyline points="428.30,605.70 444.30,604.70 464.70,599.00 497.90,564.10" fill="none" stroke="#111" stroke-width="1.5" stroke-linejoin="round"/>
<rect x="326.00" y="676.00" width="7.20" height="7.20" fill="#111"/>
<rect x="354.40" y="674.10" width="7.20" height="7.20" fill="#111"/>
<rect x="383.30" y="661.80" width="7.20" height="7.20" fill="#111"/>
<rect x="403.70" y="630.90" width="7.20" height="7.20" fill="#111"/>
<rect x="424.70" y="602.10" width="7.20" height="7.20" fill="#111"/>
<rect x="440.70" y="601.10" width="7.20" height="7.20" fill="#111"/>
<rect x="461.10" y="595.40" width="7.20" height="7.20" fill="#111"/>
<rect x="494.30" y="560.50" width="7.20" height="7.20" fill="#111"/>
</svg>
</body></html>
